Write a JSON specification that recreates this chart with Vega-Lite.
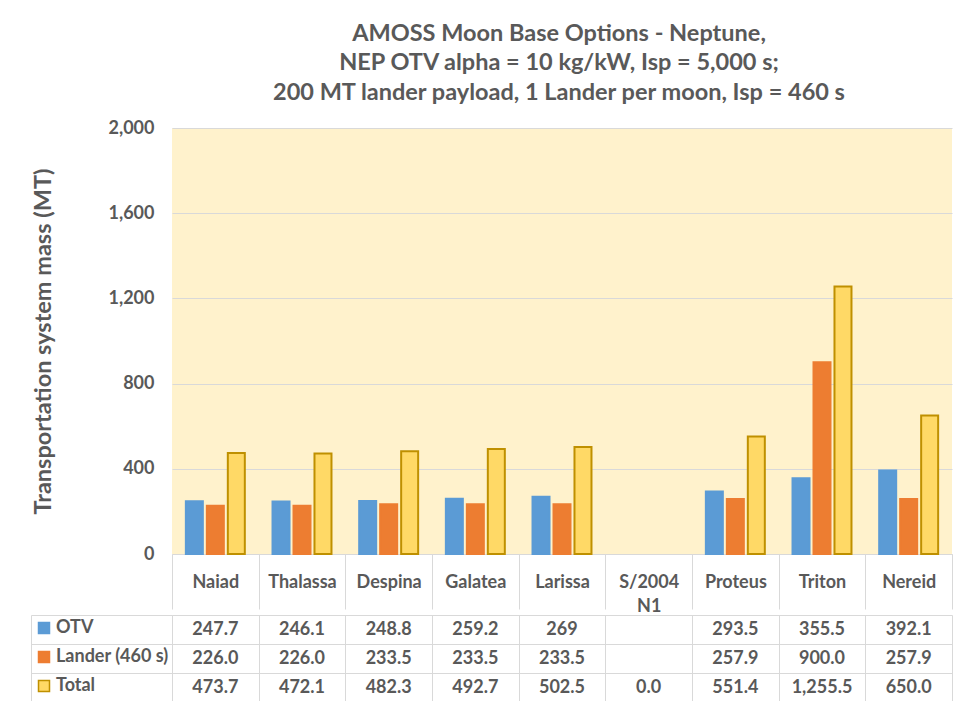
{
  "$schema": "https://vega.github.io/schema/vega-lite/v6.json",
  "background": "white",
  "padding": {"left": 30, "top": 21, "right": 3, "bottom": 5},
  "config": {"font": "Lato", "view": {"stroke": null}},
  "data": {"values": [
    {"moon": "Naiad", "series": "OTV", "value": 247.7},
    {"moon": "Naiad", "series": "Lander (460 s)", "value": 226.0},
    {"moon": "Naiad", "series": "Total", "value": 473.7},
    {"moon": "Thalassa", "series": "OTV", "value": 246.1},
    {"moon": "Thalassa", "series": "Lander (460 s)", "value": 226.0},
    {"moon": "Thalassa", "series": "Total", "value": 472.1},
    {"moon": "Despina", "series": "OTV", "value": 248.8},
    {"moon": "Despina", "series": "Lander (460 s)", "value": 233.5},
    {"moon": "Despina", "series": "Total", "value": 482.3},
    {"moon": "Galatea", "series": "OTV", "value": 259.2},
    {"moon": "Galatea", "series": "Lander (460 s)", "value": 233.5},
    {"moon": "Galatea", "series": "Total", "value": 492.7},
    {"moon": "Larissa", "series": "OTV", "value": 269},
    {"moon": "Larissa", "series": "Lander (460 s)", "value": 233.5},
    {"moon": "Larissa", "series": "Total", "value": 502.5},
    {"moon": "S/2004 N1", "series": "OTV", "value": null},
    {"moon": "S/2004 N1", "series": "Lander (460 s)", "value": null},
    {"moon": "S/2004 N1", "series": "Total", "value": 0.0},
    {"moon": "Proteus", "series": "OTV", "value": 293.5},
    {"moon": "Proteus", "series": "Lander (460 s)", "value": 257.9},
    {"moon": "Proteus", "series": "Total", "value": 551.4},
    {"moon": "Triton", "series": "OTV", "value": 355.5},
    {"moon": "Triton", "series": "Lander (460 s)", "value": 900.0},
    {"moon": "Triton", "series": "Total", "value": 1255.5},
    {"moon": "Nereid", "series": "OTV", "value": 392.1},
    {"moon": "Nereid", "series": "Lander (460 s)", "value": 257.9},
    {"moon": "Nereid", "series": "Total", "value": 650.0}
  ]},
  "spacing": -8,
  "vconcat": [
    {
      "width": 780,
      "height": 426,
      "view": {"fill": "#FFF2CC", "stroke": null},
      "title": {
        "text": ["AMOSS Moon Base Options - Neptune,", "NEP OTV alpha = 10 kg/kW, Isp = 5,000 s;", "200 MT lander payload, 1 Lander per moon, Isp = 460 s"],
        "fontSize": 23.5, "fontWeight": "bold", "color": "#595959", "font": "Lato",
        "lineHeight": 29.5, "anchor": "middle", "frame": "group", "offset": 15, "dx": -3
      },
      "transform": [{"filter": "isValid(datum.value) && datum.value > 0"}],
      "mark": {"type": "bar", "strokeWidth": 2},
      "encoding": {
        "x": {
          "field": "moon", "type": "nominal",
          "scale": {"domain": ["Naiad", "Thalassa", "Despina", "Galatea", "Larissa", "S/2004 N1", "Proteus", "Triton", "Nereid"], "paddingInner": 0, "paddingOuter": 0},
          "axis": {
            "title": null, "labelAngle": 0, "labelFontSize": 18, "labelFontWeight": "bold", "labelColor": "#595959", "labelFont": "Lato",
            "labelBaseline": "middle", "labelPadding": -27, "labelLineHeight": 24,
            "labelExpr": "datum.label == 'S/2004 N1' ? ['S/2004', 'N1'] : datum.label",
            "tickBand": "extent", "tickSize": 55, "tickColor": "#D9D9D9", "domainColor": "#D9D9D9", "grid": false
          }
        },
        "xOffset": {
          "field": "series", "type": "nominal",
          "scale": {"domain": ["OTV", "Lander (460 s)", "Total"], "paddingInner": 0.19, "paddingOuter": 0.66}
        },
        "y": {
          "field": "value", "type": "quantitative",
          "scale": {"domain": [0, 2000]},
          "axis": {
            "values": [0, 400, 800, 1200, 1600, 2000], "format": ",d",
            "labelFontSize": 18, "labelFontWeight": "bold", "labelColor": "#595959", "labelFont": "Lato", "labelPadding": 18,
            "domain": false, "ticks": false, "gridColor": "#D9D9D9",
            "title": "Transportation system mass (MT)", "titleFontSize": 23.5, "titleFontWeight": "bold", "titleColor": "#595959", "titleFont": "Lato", "titlePadding": 53
          }
        },
        "color": {
          "field": "series", "type": "nominal",
          "scale": {"domain": ["OTV", "Lander (460 s)", "Total"], "range": ["#5B9BD5", "#ED7D31", "#FFD966"]},
          "legend": {"title": null, "orient": "none", "legendX": -137, "legendY": 491, "symbolType": "square", "symbolSize": 121, "symbolStrokeWidth": 1.5, "labelFontSize": 18, "labelFontWeight": "bold", "labelColor": "#595959", "labelFont": "Lato", "rowPadding": 11, "labelOffset": 3, "padding": 0}
        },
        "stroke": {
          "field": "series", "type": "nominal",
          "scale": {"domain": ["OTV", "Lander (460 s)", "Total"], "range": ["#5B9BD5", "#ED7D31", "#BF9000"]},
          "legend": {"title": null, "orient": "none", "legendX": -137, "legendY": 491, "symbolType": "square", "symbolSize": 121, "symbolStrokeWidth": 1.5, "labelFontSize": 18, "labelFontWeight": "bold", "labelColor": "#595959", "labelFont": "Lato", "rowPadding": 11, "labelOffset": 3, "padding": 0}
        }
      }
    },
    {
      "width": 780,
      "height": 87,
      "transform": [{"filter": "isValid(datum.value)"}],
      "layer": [
        {
          "mark": {"type": "text", "fontSize": 18, "fontWeight": "bold", "color": "#595959", "font": "Lato"},
          "encoding": {
            "x": {
              "field": "moon", "type": "nominal",
              "scale": {"domain": ["Naiad", "Thalassa", "Despina", "Galatea", "Larissa", "S/2004 N1", "Proteus", "Triton", "Nereid"], "paddingInner": 0, "paddingOuter": 0},
              "axis": {"orient": "top", "title": null, "labels": false, "ticks": false, "domain": false, "grid": true, "tickBand": "extent", "gridColor": "#D9D9D9"}
            },
            "y": {
              "field": "series", "type": "nominal",
              "scale": {"domain": ["OTV", "Lander (460 s)", "Total"], "paddingInner": 0, "paddingOuter": 0},
              "axis": {"title": null, "labels": false, "ticks": true, "tickSize": 141, "tickBand": "extent", "tickColor": "#D9D9D9", "grid": true, "gridColor": "#D9D9D9", "domain": true, "domainColor": "#D9D9D9"}
            },
            "text": {
              "condition": {"test": "datum.series === 'OTV'", "field": "value", "type": "quantitative", "format": ",~f"},
              "field": "value", "type": "quantitative", "format": ",.1f"
            }
          }
        },
        {
          "mark": {"type": "text"},
          "encoding": {
            "y": {
              "field": "series", "type": "nominal",
              "axis": {"orient": "left", "offset": 141, "title": null, "labels": false, "ticks": false, "grid": false, "domain": true, "domainColor": "#D9D9D9"}
            },
            "text": {"value": ""}
          }
        }
      ],
      "resolve": {"axis": {"y": "independent"}}
    }
  ]
}
